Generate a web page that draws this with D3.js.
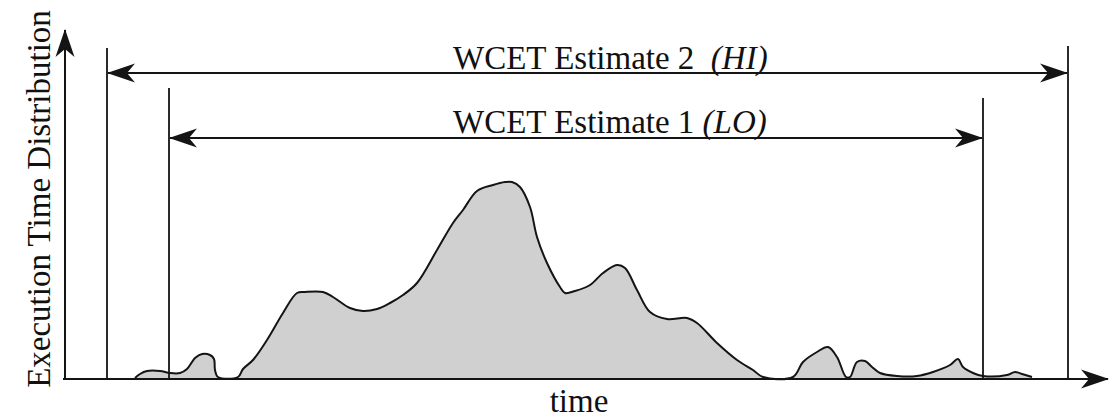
<!DOCTYPE html>
<html>
<head>
<meta charset="utf-8">
<script src="https://cdn.jsdelivr.net/npm/d3@7"></script>
<style>
  html, body { margin: 0; padding: 0; background: #fff; }
  svg { display: block; }
</style>
</head>
<body>
<svg id="chart" width="1113" height="418"></svg>
<script>
// ---- data (time units, density units) ----
const times   = [70, 75, 82, 95, 105, 115, 122, 130, 137, 145, 149, 150, 153, 173, 178, 188, 202, 218, 232, 240, 258, 268, 285, 298, 312, 325, 338, 352, 372, 388, 398, 412, 428, 440, 447, 455, 465, 472, 482, 495, 500, 510, 525, 538, 552, 560, 572, 585, 602, 622, 632, 652, 672, 688, 698, 728, 738, 752, 763, 772, 781, 785, 792, 800, 807, 815, 832, 852, 868, 885, 893, 898, 908, 918, 942, 950, 957, 967];
const density = [0, 4, 7, 7, 5, 5, 9, 20, 24, 23, 19, 8, 1, 1, 9, 18, 38, 65, 85, 86, 86, 81, 70, 67, 69, 75, 83, 95, 128, 155, 168, 187, 193, 196, 196, 191, 171, 141, 115, 91, 85, 87, 93, 105, 113, 110, 88, 66, 59, 60, 55, 35, 18, 8, 1, 1, 16, 26, 31, 21, 1, 1, 16, 17, 11, 5, 2, 2, 6, 13, 19, 11, 5, 2, 3, 6, 4, 1];
const estimateLabels = ["WCET Estimate 2", "WCET Estimate 1"];
const estimateTags   = ["(HI)", "(LO)"];
const estimateStart  = [42, 104];
const estimateEnd    = [1003, 918];
const axisLabels = { x: "time", y: "Execution Time Distribution" };

// ---- layout ----
const svg = d3.select("#chart");
const x = d3.scaleLinear().domain([0, 1043]).range([65, 1108]);
const y = d3.scaleLinear().domain([0, 348]).range([378, 30]);
const ink = "#141414";

function serif(sel, size) {
  return sel.attr("font-family", "Liberation Serif")
    .style("font-family", "Liberation Serif")
    .style("font-size", size + "px")
    .attr("fill", "#111");
}

const defs = svg.append("defs");
defs.append("marker")
  .attr("id", "arr")
  .attr("viewBox", "-29 -11 31 22")
  .attr("refX", 0).attr("refY", 0)
  .attr("markerUnits", "userSpaceOnUse")
  .attr("markerWidth", 31).attr("markerHeight", 22)
  .attr("orient", "auto-start-reverse")
  .append("path")
  .attr("d", "M1,0 L-27,-9.5 L-19,0 L-27,9.5 Z")
  .attr("fill", ink);

// ---- distribution ----
const pts = times.map((t, i) => [t, density[i]]);
const area = d3.area()
  .x(d => x(d[0])).y0(y(0)).y1(d => y(d[1]))
  .curve(d3.curveCatmullRom.alpha(0.5));
const line = d3.line()
  .x(d => x(d[0])).y(d => y(d[1]))
  .curve(d3.curveCatmullRom.alpha(0.5));

svg.append("path").datum(pts).attr("d", area).attr("fill", "#d0d0d0");
svg.append("path").datum(pts).attr("d", line)
  .attr("fill", "none").attr("stroke", ink).attr("stroke-width", 2)
  .attr("stroke-linejoin", "round");

// ---- axes (arrows) ----
svg.append("line")
  .attr("x1", x(-2)).attr("x2", x(1043)).attr("y1", y(0) + 1).attr("y2", y(0) + 1)
  .attr("stroke", ink).attr("stroke-width", 2).attr("marker-end", "url(#arr)");
svg.append("line")
  .attr("x1", x(0)).attr("x2", x(0)).attr("y1", y(-1)).attr("y2", y(348))
  .attr("stroke", ink).attr("stroke-width", 2).attr("marker-end", "url(#arr)");

// ---- WCET estimate bounds ----
const topsStart = [330, 290];
const topsEnd   = [332, 280];
const arrowY    = [305, 240];
const textY     = [309, 245];
estimateLabels.forEach((lab, i) => {
  svg.append("line")
    .attr("x1", x(estimateStart[i])).attr("x2", x(estimateStart[i]))
    .attr("y1", y(-2)).attr("y2", y(topsStart[i]))
    .attr("stroke", ink).attr("stroke-width", 1.8);
  svg.append("line")
    .attr("x1", x(estimateEnd[i])).attr("x2", x(estimateEnd[i]))
    .attr("y1", y(0)).attr("y2", y(topsEnd[i]))
    .attr("stroke", ink).attr("stroke-width", 1.8);
  svg.append("line")
    .attr("x1", x(estimateStart[i]) + 1).attr("x2", x(estimateEnd[i]) - 1)
    .attr("y1", y(arrowY[i])).attr("y2", y(arrowY[i]))
    .attr("stroke", ink).attr("stroke-width", 2)
    .attr("marker-start", "url(#arr)").attr("marker-end", "url(#arr)");
  const t = serif(svg.append("text"), 33)
    .attr("x", x(388)).attr("y", y(textY[i]));
  t.append("tspan").text(lab + (i === 0 ? "\u00a0\u00a0" : " "));
  t.append("tspan").style("font-style", "italic").text(estimateTags[i]);
});

// ---- axis labels ----
serif(svg.append("text"), 33)
  .attr("x", x(514)).attr("y", 412)
  .attr("text-anchor", "middle")
  .text(axisLabels.x);
serif(svg.append("text"), 33)
  .attr("transform", "translate(50,199) rotate(-90)")
  .attr("text-anchor", "middle")
  .text(axisLabels.y);
</script>
</body>
</html>
